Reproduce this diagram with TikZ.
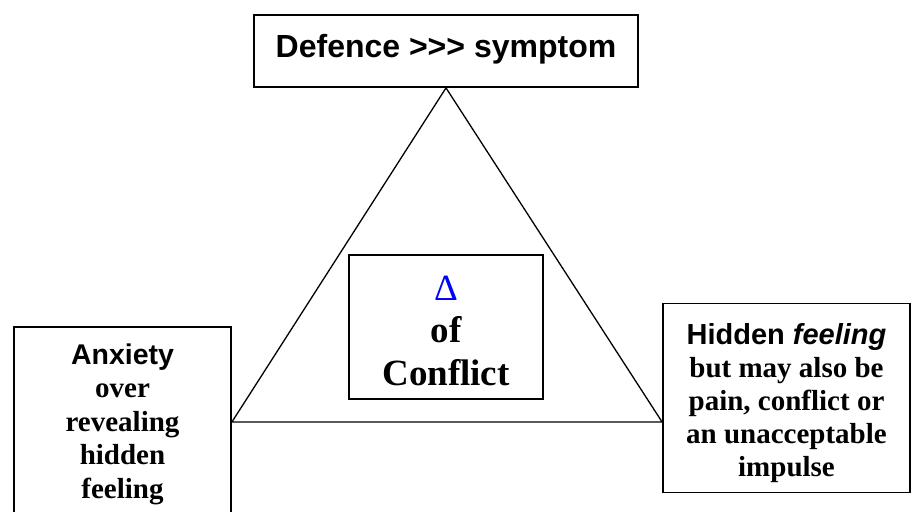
\documentclass[tikz,border=0pt]{standalone}
\usepackage{fontspec}
\setmainfont{Liberation Serif}
\newfontfamily\arialf{Liberation Sans}
\definecolor{deltablue}{RGB}{0,0,255}
\begin{document}
\begin{tikzpicture}[x=1pt,y=-1pt,
  frame/.style={draw, line width=1.8pt, inner sep=0pt},
  edge/.style={line width=1.3pt, line join=miter},
  sanstext/.style={anchor=base, inner sep=0pt, font=\arialf\bfseries\fontsize{#1}{#1}\selectfont},
  seriftext/.style={anchor=base, inner sep=0pt, font=\bfseries\fontsize{#1}{#1}\selectfont}]
\clip (0,0) rectangle (912,511);
\fill[white] (0,0) rectangle (912,511);
% boxes
\node[frame, minimum width=384pt, minimum height=72pt] (top) at (446,51) {};
\node[frame, minimum width=217pt, minimum height=190pt] (lbox) at (122.5,422) {};
\node[frame, minimum width=247pt, minimum height=189pt] (rbox) at (786.5,398) {};
\node[frame, minimum width=194pt, minimum height=144pt] (cbox) at (446,327) {};
% triangle
\draw[edge] (top.south) -- (lbox.east) -- (rbox.west |- lbox.east) -- cycle;
% top text
\node[sanstext=32] (ttext) at (446,57) {Defence >>> symptom};
% left text
\node[sanstext=28.5] (l1) at (122.5,364) {Anxiety};
\node[seriftext=29] (l2) at (122.5,397) {over};
\node[seriftext=29] (l3) at (122.5,431) {revealing};
\node[seriftext=29] (l4) at (122.5,464) {hidden};
\node[seriftext=29] (l5) at (122.5,498) {feeling};
% right text
\node[sanstext=29] (r1) at (786.5,344) {Hidden \textit{feeling}};
\node[seriftext=29] (r2) at (786.5,377) {but may also be};
\node[seriftext=29] (r3) at (786.5,410) {pain, conflict or};
\node[seriftext=29] (r4) at (786.5,443) {an unacceptable};
\node[seriftext=29] (r5) at (786.5,476) {impulse};
% centre text
\node[anchor=base, inner sep=0pt, text=deltablue, font=\fontsize{37}{37}\selectfont] (c1) at (446,300) {Δ};
\node[seriftext=37] (c2) at (446,342) {of};
\node[seriftext=37] (c3) at (446,385) {Conflict};
\end{tikzpicture}
\end{document}
